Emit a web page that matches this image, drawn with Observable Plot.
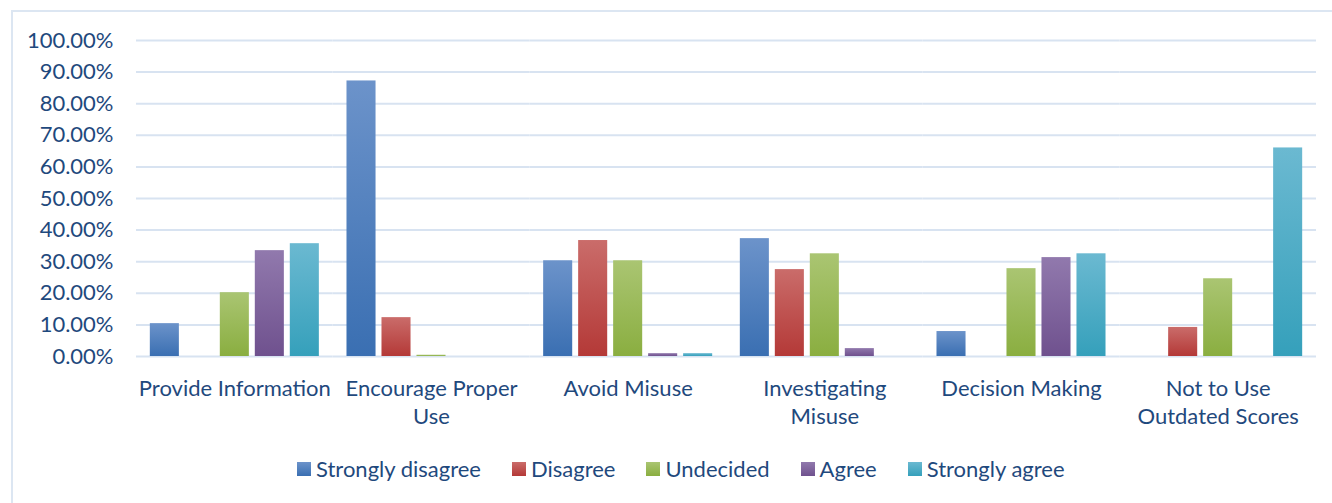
<!DOCTYPE html>
<html>
<head>
<meta charset="utf-8">
<script src="https://cdn.jsdelivr.net/npm/d3@7"></script>
<script src="https://cdn.jsdelivr.net/npm/@observablehq/plot@0.6"></script>
<style>
html, body { margin: 0; padding: 0; background: #ffffff; overflow: hidden; }
#wrap { position: relative; width: 1332px; height: 503px; overflow: hidden; background: #ffffff; }
#frame { position: absolute; left: 11px; top: 10px; width: 1400px; height: 600px; border: 2px solid #dce6f2; box-sizing: border-box; }
#chart { position: absolute; left: 0; top: 0; }
#legend { position: absolute; left: 297px; top: 452px; }
#legend .lg-swatches { font-family: Lato, sans-serif; font-size: 22px; color: #1f497d; margin: 0; }
#legend .lg-swatch { margin-right: 31px; }
#legend .lg-swatch > svg { margin-right: 5px; }
</style>
</head>
<body>
<div id="wrap">
  <svg width="0" height="0" style="position:absolute;left:0;top:0">
    <defs id="grads"></defs>
  </svg>
  <div id="frame"></div>
  <div id="chart"></div>
  <div id="legend"></div>
</div>
<script>
// ---- data ----
const categories = ["Provide Information", "Encourage Proper Use", "Avoid Misuse", "Investigating Misuse", "Decision Making", "Not to Use Outdated Scores"];
const categoryLabels = ["Provide Information", "Encourage Proper\nUse", "Avoid Misuse", "Investigating\nMisuse", "Decision Making", "Not to Use\nOutdated Scores"];
const responses = ["Strongly disagree", "Disagree", "Undecided", "Agree", "Strongly agree"];
const stronglyDisagree = [10.4, 87.2, 30.3, 37.3, 7.9, 0];
const disagree         = [0, 12.3, 36.7, 27.5, 0, 9.2];
const undecided        = [20.2, 0.4, 30.3, 32.5, 27.8, 24.6];
const agree            = [33.5, 0, 0.9, 2.5, 31.3, 0];
const stronglyAgree    = [35.7, 0, 0.9, 0, 32.5, 66.0];
const yTicks = [0, 10, 20, 30, 40, 50, 60, 70, 80, 90, 100];

// ---- styles (gradient top / bottom per series) ----
const gradTop    = ["#6c93ca", "#ca6c6a", "#aac572", "#9179ad", "#6bb9d1"];
const gradBottom = ["#3a6fb2", "#b43937", "#8aae40", "#6f518e", "#35a0bb"];
const textColor = "#1f497d";

const defs = document.getElementById("grads");
const NS = "http://www.w3.org/2000/svg";
responses.forEach((r, i) => {
  const g = document.createElementNS(NS, "linearGradient");
  g.setAttribute("id", "grad" + i);
  g.setAttribute("x1", "0"); g.setAttribute("y1", "0");
  g.setAttribute("x2", "0"); g.setAttribute("y2", "1");
  const s1 = document.createElementNS(NS, "stop");
  s1.setAttribute("offset", "0"); s1.setAttribute("stop-color", gradTop[i]);
  const s2 = document.createElementNS(NS, "stop");
  s2.setAttribute("offset", "1"); s2.setAttribute("stop-color", gradBottom[i]);
  g.appendChild(s1); g.appendChild(s2);
  defs.appendChild(g);
});
const gradUrls = responses.map((r, i) => `url(#grad${i})`);

const seriesValues = [stronglyDisagree, disagree, undecided, agree, stronglyAgree];
const table = [];
categories.forEach((c, ci) => {
  responses.forEach((r, ri) => {
    table.push({category: c, response: r, value: seriesValues[ri][ci]});
  });
});
const labelOf = new Map(categories.map((c, i) => [c, categoryLabels[i]]));

const chart = Plot.plot({
  width: 1332,
  height: 440,
  marginLeft: 136,
  marginRight: 16,
  marginTop: 40,
  marginBottom: 84,
  style: {fontFamily: "Lato, sans-serif", fontSize: "22px", color: textColor, background: "transparent", overflow: "visible"},
  fx: {domain: categories, padding: 0, round: false, axis: null, label: null},
  x: {domain: responses, paddingInner: 0.17, paddingOuter: 0.395, round: false, axis: null, label: null},
  y: {domain: [0, 100], axis: null, label: null},
  color: {domain: responses, range: gradUrls},
  marks: [
    Plot.gridY(yTicks, {stroke: "#d8e3f1", strokeOpacity: 1, strokeWidth: 2}),
    Plot.barY(table, {fx: "category", x: "response", y: "value", fill: "response"}),
    Plot.axisY(yTicks, {label: null, tickSize: 0, tickPadding: 23, tickFormat: d => d.toFixed(2) + "%", fontSize: 22, fill: textColor}),
    Plot.text(categories, {fx: d => d, text: d => labelOf.get(d), frameAnchor: "bottom", lineAnchor: "top", dy: 20, lineHeight: 1.27, fontSize: 22, fill: textColor})
  ]
});
document.getElementById("chart").appendChild(chart);

const legend = Plot.legend({
  color: {domain: responses, range: gradUrls},
  swatchSize: 14,
  className: "lg"
});
document.getElementById("legend").appendChild(legend);
</script>
</body>
</html>
